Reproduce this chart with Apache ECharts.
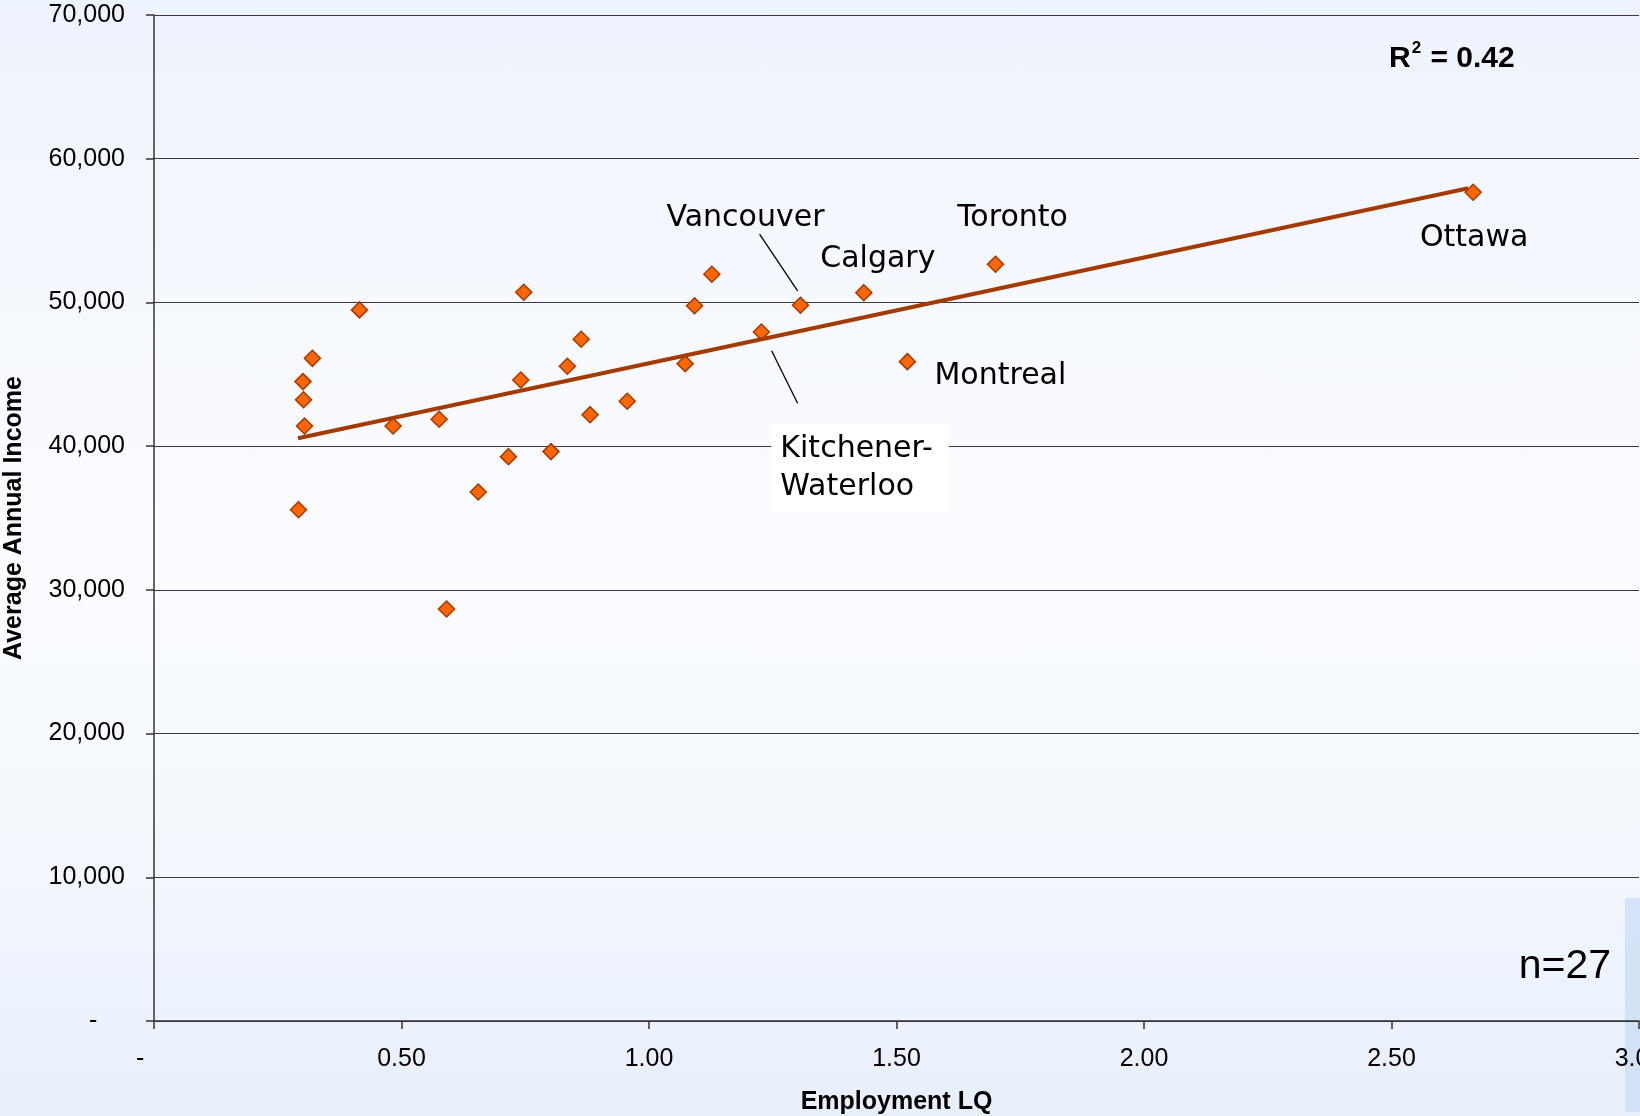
<!DOCTYPE html>
<html>
<head>
<meta charset="utf-8">
<script src="https://cdn.jsdelivr.net/npm/echarts@6/dist/echarts.min.js"></script>
<style>
  html, body { margin: 0; padding: 0; }
  #chart {
    width: 1640px; height: 1116px;
    background: linear-gradient(to bottom, #edf3fc 0%, #f5f8fe 25%, #fafcff 50%, #f4f8fe 75%, #e7effb 100%);
  }
</style>
</head>
<body>
<div id="chart"></div>
<script>
// ---- data ----
const employmentLQ = [0.292, 0.304, 0.302, 0.301, 0.320, 0.415, 0.483, 0.576, 0.591, 0.655,
  0.716, 0.741, 0.747, 0.802, 0.835, 0.863, 0.881, 0.956, 1.073, 1.092,
  1.127, 1.227, 1.306, 1.434, 1.522, 1.700, 2.665];
const avgIncome = [35580, 41400, 43230, 44490, 46110, 49480, 41400, 41870, 28670, 36810,
  39270, 44600, 50710, 39620, 45560, 47440, 42190, 43120, 45740, 49770,
  51960, 47940, 49800, 50680, 45880, 52660, 57670];
const cityNames = ['', '', '', '', '', '', '', '', '', '',
  '', '', '', '', '', '', '', '', '', '',
  '', 'Kitchener-\nWaterloo', 'Vancouver', 'Calgary', 'Montreal', 'Toronto', 'Ottawa'];
const trendX = [0.291, 2.655];
const trendY = [40550, 57950];
const xTicks = [0, 0.5, 1.0, 1.5, 2.0, 2.5, 3.0];
const yTicks = [0, 10000, 20000, 30000, 40000, 50000, 60000, 70000];
const rSquared = '0.42';
const sampleSize = 27;
// leader lines (data space) : [x1, y1, x2, y2]
const leaderVancouver = [1.2234, 54760, 1.3002, 50800];
const leaderKW = [1.2477, 46640, 1.3002, 42980];

// ---- label layout (styling, not data): pixel shift of each label from its point ----
const labelShift = {
  'Vancouver': [-55, -87],
  'Calgary': [14, -33],
  'Toronto': [17, -46],
  'Montreal': [93, 15],
  'Ottawa': [1, 46],
  'Kitchener-\nWaterloo': [10, 136]
};
const labelExtra = {
  'Kitchener-\nWaterloo': { align: 'left', backgroundColor: '#ffffff', padding: [3, 16, 9, 9], lineHeight: 38 }
};

const cityFont = 'DejaVu Sans';
const scatterData = employmentLQ.map((x, i) => {
  const name = cityNames[i];
  const item = { value: [x, avgIncome[i]] };
  if (name) {
    item.label = Object.assign({
      show: true, formatter: name, position: 'inside',
      fontFamily: cityFont, fontSize: 30, color: '#000', align: 'center', verticalAlign: 'middle'
    }, labelExtra[name] || {});
  } else {
    item.label = { show: false };
  }
  return item;
});

const chart = echarts.init(document.getElementById('chart'), null, { renderer: 'canvas' });
const tickFont = 'Liberation Sans';
chart.setOption({
  backgroundColor: 'transparent',
  animation: false,
  grid: { left: 154, top: 15, right: 1, bottom: 95, containLabel: false, outerBoundsMode: 'none' },
  xAxis: {
    type: 'value', min: xTicks[0], max: xTicks[xTicks.length - 1], interval: 0.5,
    name: 'Employment LQ', nameLocation: 'middle', nameGap: 69,
    nameTextStyle: { fontFamily: tickFont, fontWeight: 'bold', fontSize: 25, color: '#000' },
    axisLine: { show: true, onZero: false, lineStyle: { color: '#333', width: 1.5 } },
    axisTick: { show: true, inside: false, length: 8, lineStyle: { color: '#333', width: 1.5 } },
    axisLabel: {
      show: true, margin: 26, fontFamily: tickFont, fontSize: 25, color: '#000',
      showMaxLabel: true, showMinLabel: true, hideOverlap: false,
      formatter: v => (v === 0 ? '-    ' : v.toFixed(2))
    },
    splitLine: { show: false }
  },
  yAxis: {
    type: 'value', min: yTicks[0], max: yTicks[yTicks.length - 1], interval: 10000,
    name: 'Average Annual Income', nameLocation: 'middle', nameGap: 127, nameRotate: 90,
    nameTextStyle: { fontFamily: tickFont, fontWeight: 'bold', fontSize: 25, color: '#000' },
    axisLine: { show: true, onZero: false, lineStyle: { color: '#333', width: 1.5 } },
    axisTick: { show: true, inside: false, length: 8, lineStyle: { color: '#333', width: 1.5 } },
    axisLabel: {
      show: true, margin: 29, fontFamily: tickFont, fontSize: 25, color: '#000',
      formatter: v => (v === 0 ? '-    ' : v.toLocaleString('en-US'))
    },
    splitLine: { show: true, lineStyle: { color: '#3a3a3a', width: 1.2 } }
  },
  series: [
    {
      type: 'scatter', name: 'cities', z: 3,
      symbol: 'diamond', symbolSize: 16,
      itemStyle: { color: '#ff6600', borderColor: '#a83800', borderWidth: 1.5, opacity: 1 },
      data: scatterData,
      labelLayout: function (params) {
        const name = cityNames[params.dataIndex];
        const s = labelShift[name];
        if (!s) return {};
        return { dx: s[0], dy: s[1], hideOverlap: false };
      }
    },
    {
      type: 'line', name: 'trend', z: 4,
      symbol: 'none', silent: true,
      lineStyle: { color: '#a33a00', width: 4 },
      data: trendX.map((x, i) => [x, trendY[i]])
    },
    {
      type: 'line', name: 'leaderV', z: 4, symbol: 'none', silent: true,
      lineStyle: { color: '#000', width: 1.3 },
      data: [[leaderVancouver[0], leaderVancouver[1]], [leaderVancouver[2], leaderVancouver[3]]]
    },
    {
      type: 'line', name: 'leaderKW', z: 4, symbol: 'none', silent: true,
      lineStyle: { color: '#000', width: 1.3 },
      data: [[leaderKW[0], leaderKW[1]], [leaderKW[2], leaderKW[3]]]
    }
  ],
  graphic: [
    {
      type: 'text', x: 1389, y: 40, z: 10,
      style: {
        text: '{r|R}{s|2}{r| = ' + rSquared + '}',
        verticalAlign: 'top',
        rich: {
          r: { fontFamily: tickFont, fontWeight: 'bold', fontSize: 30, fill: '#000', lineHeight: 34, verticalAlign: 'bottom' },
          s: { fontFamily: tickFont, fontWeight: 'bold', fontSize: 17, fill: '#000', lineHeight: 34, verticalAlign: 'top', padding: [0, 1, 0, 1] }
        }
      }
    },
    {
      type: 'text', x: 1611, y: 967, z: 10,
      style: { text: 'n=' + sampleSize, align: 'right', verticalAlign: 'middle',
        font: '41px "Liberation Sans"', fill: '#000' }
    },
    {
      type: 'rect', z: -1, shape: { x: 1625, y: 898, width: 15, height: 214 },
      style: { fill: 'rgba(200,220,244,0.7)' }
    }
  ]
});
</script>
</body>
</html>
